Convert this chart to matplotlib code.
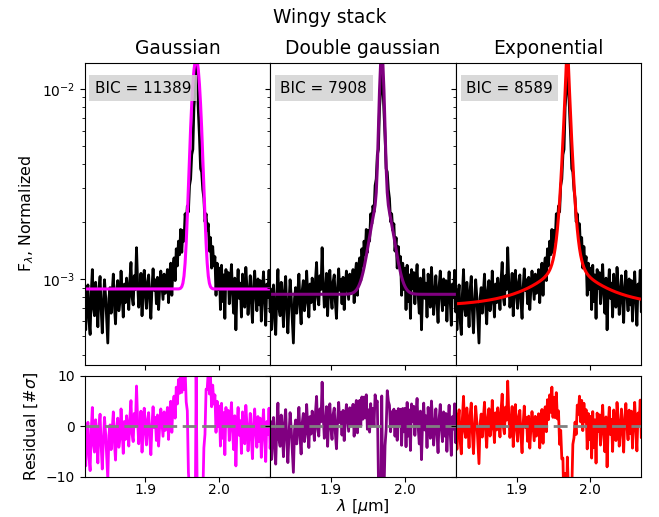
import matplotlib.pyplot as plt
import numpy as np

# wavelength grid of the stacked spectrum (micron)
wave = np.linspace(1.816, 2.071, 171)

# normalized flux, in units of 1e-4
flux_1e4 = [
    6.2, 8.9, 5.4, 7.8, 9.3, 6.0, 5.1, 8.4, 11.2, 7.0,
    6.4, 9.6, 7.7, 5.6, 8.8, 10.3, 6.9, 5.2, 7.4, 9.9,
    8.1, 6.1, 4.6, 7.9, 9.0, 6.6, 8.5, 10.6, 7.2, 5.8,
    8.7, 9.8, 6.8, 7.6, 11.0, 8.2, 6.3, 9.4, 7.5, 10.1,
    8.6, 6.9, 9.9, 12.2, 8.0, 7.3, 10.4, 8.8, 14.6, 9.5,
    7.1, 8.4, 10.7, 6.4, 9.2, 11.1, 8.1, 7.0, 9.7, 10.5,
    7.6, 6.2, 9.0, 11.3, 8.7, 9.9, 7.4, 10.2, 6.9, 8.9,
    11.0, 9.3, 7.8, 10.6, 8.4, 9.6,
    11.2, 7.5, 10.6, 12.1, 8.2, 11.6, 12.9, 9.8, 14.4, 11.7, 15.8, 13.4, 18.2,
    13.8, 18.0, 15.8, 22.0, 19.5, 24.2, 22.5, 31.0, 33.5, 45.0, 48.0, 80.0, 96.0,
    168.0,
    107.0, 76.0, 56.0, 38.0, 36.5, 29.5, 26.5, 20.0, 22.0, 18.0, 19.5, 14.0, 16.5,
    11.4, 14.8, 11.7, 13.1, 8.2, 12.1, 8.8, 11.4, 6.9, 11.8, 7.6, 10.5, 6.2,
    11.2, 8.9,
    10.8, 7.4, 9.7, 11.9, 8.2, 6.6, 10.1, 5.4, 8.8, 11.2,
    7.9, 9.5, 6.3, 10.6, 8.5, 7.1, 11.5, 9.0, 6.5, 8.3,
    10.4, 7.6, 5.9, 9.2, 11.0, 8.1, 6.8, 10.0, 7.3, 9.8,
    6.0, 8.6, 10.9, 7.7, 5.7, 9.4, 8.0, 11.1, 6.7, 8.4,
]
flux = np.array(flux_1e4) * 1e-4
noise_floor = 0.55e-4
err = noise_floor * np.sqrt(flux / 8.5e-4)

line_center = 1.969

# fitted model parameters
gauss_cont, gauss_amp, gauss_sig = 8.85e-4, 0.0135, 0.0055
dg_cont, dg_amp1, dg_sig1, dg_amp2, dg_sig2 = 8.3e-4, 0.0125, 0.0028, 2.0e-3, 0.0125
exp_cont, exp_amp1, exp_s1, exp_amp2, exp_s2 = 7.2e-4, 0.017, 0.0042, 5.75e-4, 0.045

d = wave - line_center
model_gauss = gauss_cont + gauss_amp * np.exp(-d**2 / (2 * gauss_sig**2))
model_dg = (dg_cont + dg_amp1 * np.exp(-d**2 / (2 * dg_sig1**2))
            + dg_amp2 * np.exp(-d**2 / (2 * dg_sig2**2)))
model_exp = (exp_cont + exp_amp1 * np.exp(-np.abs(d) / exp_s1)
             + exp_amp2 * np.exp(-np.abs(d) / exp_s2))

names = ['Gaussian', 'Double gaussian', 'Exponential']
models = [model_gauss, model_dg, model_exp]
colors = ['magenta', 'purple', 'red']
bics = [11389, 7908, 8589]

fig = plt.figure(figsize=(6.59, 5.17), dpi=100)
gs = fig.add_gridspec(2, 3, height_ratios=[3, 1], hspace=0.053, wspace=0,
                      left=0.1285, right=0.9734, top=0.879, bottom=0.078)

for j in range(3):
    ax = fig.add_subplot(gs[0, j])
    rax = fig.add_subplot(gs[1, j])

    ax.plot(wave, flux, color='black', lw=2)
    ax.plot(wave, models[j], color=colors[j], lw=2.2)
    ax.set_yscale('log')
    ax.set_ylim(3.52e-4, 1.374e-2)
    ax.set_xlim(1.8176, 2.0697)
    ax.set_title(names[j], fontsize=13.4)
    ax.tick_params(labelbottom=False)
    ax.text(0.055, 0.94, f'BIC = {bics[j]}', transform=ax.transAxes,
            va='top', ha='left', fontsize=11, zorder=5,
            bbox=dict(facecolor='lightgrey', edgecolor='none', alpha=0.85))

    resid = (flux - models[j]) / err
    rax.plot(wave, resid, color=colors[j], lw=2)
    rax.axhline(0, color='grey', ls='--', lw=2, dashes=(5, 2))
    rax.set_ylim(-10, 10)
    rax.set_xlim(1.8176, 2.0697)
    rax.set_xticks([1.9, 2.0])
    rax.set_yticks([-10, 0, 10])
    rax.tick_params(axis='x', pad=1)

    if j == 0:
        ax.set_ylabel(r'F$_\lambda$, Normalized', fontsize=11.4)
        rax.set_ylabel(r'Residual [#$\sigma$]', fontsize=11.4)
    else:
        ax.tick_params(which='both', labelleft=False)
        rax.tick_params(labelleft=False)
    if j == 1:
        rax.set_xlabel(r'$\lambda$ [$\mu$m]', fontsize=11.4, labelpad=0)

fig.suptitle('Wingy stack', y=0.967, va='center', fontsize=13.4)
fig.savefig('out.png', dpi=100)
